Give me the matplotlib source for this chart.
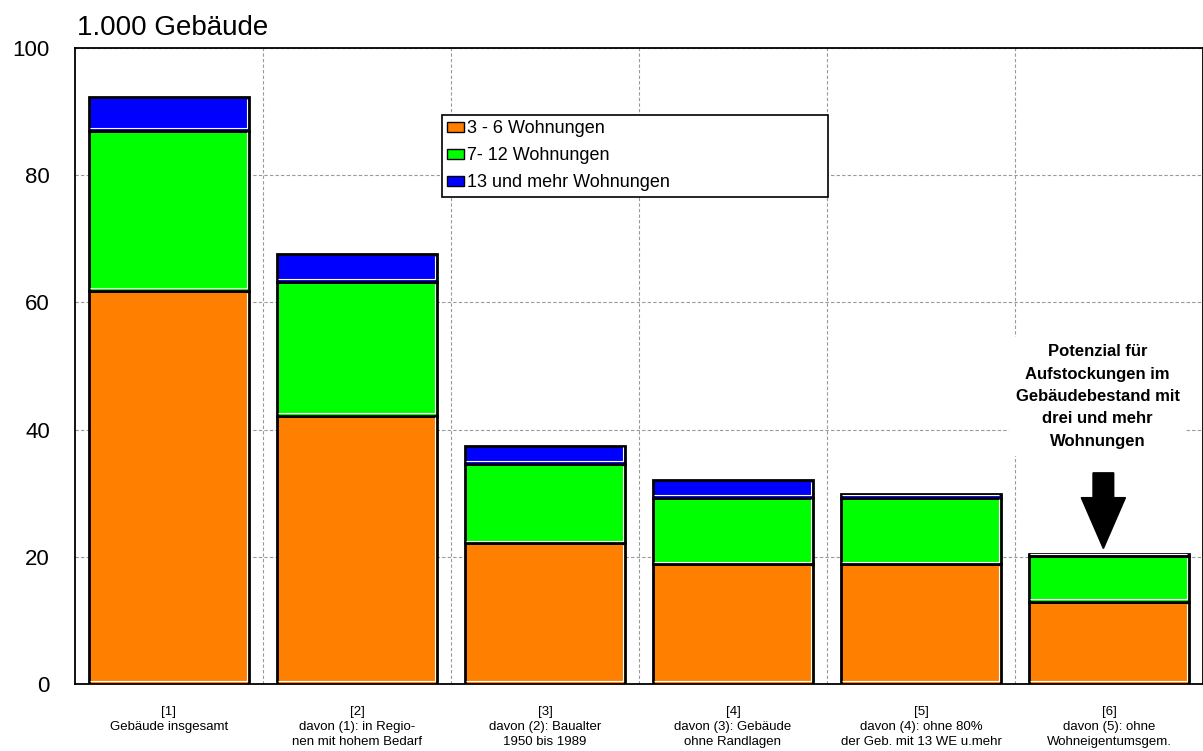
import numpy as np
import matplotlib
matplotlib.use("Agg")
import matplotlib.pyplot as plt
from matplotlib.transforms import IdentityTransform

plt.rcParams['font.family'] = ['Liberation Sans', 'DejaVu Sans']

# Werte in 1.000 Gebaeuden
kategorien = ["[1]\nGebäude insgesamt",
              "[2]\ndavon (1): in Regio-\nnen mit hohem Bedarf",
              "[3]\ndavon (2): Baualter\n1950 bis 1989",
              "[4]\ndavon (3): Gebäude\nohne Randlagen",
              "[5]\ndavon (4): ohne 80%\nder Geb. mit 13 WE u.mehr",
              "[6]\ndavon (5): ohne\nWohneigentumsgem."]
w3_6 = [61.8, 42.2, 22.1, 18.8, 18.8, 12.9]
w7_12 = [25.2, 21.0, 12.5, 10.5, 10.5, 7.2]
w13 = [5.3, 4.4, 2.9, 2.7, 0.6, 0.3]
serien = ["3 - 6 Wohnungen", "7- 12 Wohnungen", "13 und mehr Wohnungen"]
farben = ["#ff8000", "#00ff00", "#0000ff"]

fig = plt.figure(figsize=(12.03, 7.51), dpi=100)
ax = fig.add_axes([75/1203, 1-684/751, 1128/1203, 636/751])
ax.set_xlim(-0.5, 5.5)
ax.set_ylim(0, 100)

x = np.arange(len(kategorien))
unten = np.zeros(len(kategorien))
alle_balken = []
for werte, name, farbe in zip([w3_6, w7_12, w13], serien, farben):
    bc = ax.bar(x, werte, bottom=unten, width=0.855, color=farbe, edgecolor="black",
                linewidth=2, label=name, zorder=3)
    alle_balken.extend(bc.patches)
    unten += np.array(werte)

# weisse Innenkante rechts und unten (Schatteneffekt wie im Original)
for p in alle_balken:
    (xl, yb), (xr, yt) = ax.transData.transform(
        [(p.get_x(), p.get_y()), (p.get_x() + p.get_width(), p.get_y() + p.get_height())])
    ax.plot([xr - 2.6, xr - 2.6, xl + 1.6], [max(yt - 1.6, yb + 2.6), yb + 2.6, yb + 2.6],
            color='white', linewidth=0.8, transform=IdentityTransform(), zorder=3.5,
            solid_capstyle='butt')

ax.set_yticks([0, 20, 40, 60, 80, 100])
ax.set_xticks(x)
ax.set_xticklabels(kategorien, fontsize=9.5, linespacing=1.32)
ax.set_xticks(np.arange(0.5, 5.5, 1), minor=True)
ax.tick_params(axis='x', which='both', length=0, pad=16)
ax.tick_params(axis='y', length=0, labelsize=16, pad=18)
ax.grid(which='minor', axis='x', color='#999999', linestyle=(0, (3, 2)), linewidth=0.8, zorder=0)
ax.grid(which='major', axis='y', color='#999999', linestyle=(0, (3, 2)), linewidth=0.8, zorder=0)
for s in ax.spines.values():
    s.set_linewidth(1.3)

fig.text(77/1203, 1-35/751, "1.000 Gebäude", fontsize=20)

leg = ax.legend(loc='upper left', bbox_to_anchor=(367/1128, 569/636, 386/1128, 0),
                mode='expand', fontsize=13, frameon=True, fancybox=False, framealpha=1,
                handlelength=0.9, handleheight=0.5, handletextpad=0.2,
                borderaxespad=0, borderpad=0.3, labelspacing=0.55)
leg.get_frame().set_edgecolor('black')
leg.get_frame().set_linewidth(1.2)
for h in leg.legend_handles:
    h.set_linewidth(1)
leg.set_zorder(5)

ax.text(4.94, 45.2, "Potenzial für\nAufstockungen im\nGebäudebestand mit\ndrei und mehr\nWohnungen",
        ha='center', va='center', fontsize=12, fontweight='bold', linespacing=1.62,
        bbox=dict(boxstyle='square,pad=0.4', facecolor='white', edgecolor='none'), zorder=4)
ax.arrow(4.97, 33.2, 0, -11.9, width=0.11, head_width=0.235, head_length=8.0,
         length_includes_head=True, color='black', zorder=4)

fig.savefig("out.png", dpi=100)
